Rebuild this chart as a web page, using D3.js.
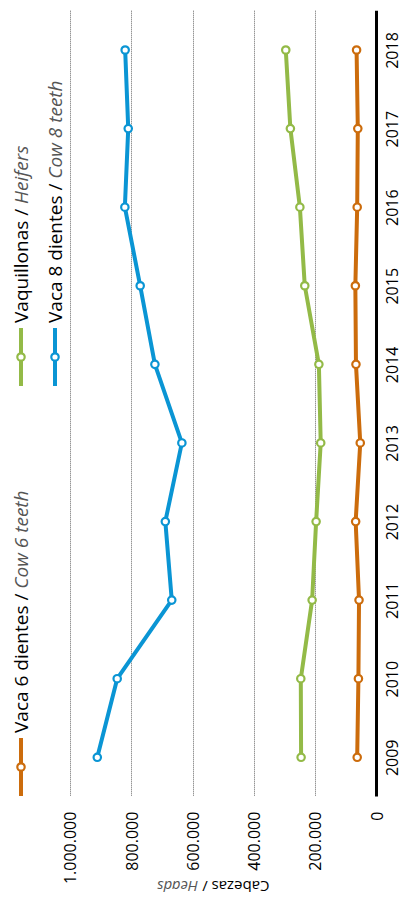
<!DOCTYPE html>
<html>
<head>
<meta charset="utf-8">
<script src="https://cdn.jsdelivr.net/npm/d3@7"></script>
<style>
  html, body { margin: 0; padding: 0; background: #fff; }
  svg { display: block; font-family: "Open Sans", "Noto Sans", sans-serif; }
</style>
</head>
<body>
<svg id="chart" width="402" height="897"></svg>
<script>
// Cattle stock by category, 2009-2018 (heads)
const years = ["2009", "2010", "2011", "2012", "2013", "2014", "2015", "2016", "2017", "2018"];
const cow6 = [63000, 59000, 57000, 68000, 53000, 67000, 69000, 63000, 61000, 65000];
const heifers = [246000, 247000, 210000, 197000, 182000, 188000, 234000, 250000, 281000, 296000];
const cow8 = [911000, 846000, 668000, 689000, 635000, 723000, 771000, 821000, 810000, 820000];
const valueTicks = [0, 200000, 400000, 600000, 800000, 1000000];

const seriesNames = [
  { es: "Vaca 6 dientes", en: "Cow 6 teeth", values: cow6, color: "#cc6c0c" },
  { es: "Vaquillonas", en: "Heifers", values: heifers, color: "#93ba47" },
  { es: "Vaca 8 dientes", en: "Cow 8 teeth", values: cow8, color: "#0a95d4" }
];

const svg = d3.select("#chart");
const locale = d3.formatLocale({ decimal: ",", thousands: ".", grouping: [3], currency: ["", ""] });
const fmt = locale.format(",d");

// The chart is laid out sideways: values grow leftward, years run downward.
const x = d3.scaleLinear().domain([0, 1000000]).range([376.5, 70]);
const y = d3.scalePoint().domain(years).range([757.3, 50]);
const plotTop = 10.7, plotBottom = 796.6;

// dotted gridlines
svg.append("g").selectAll("line")
  .data(valueTicks.filter(v => v > 0))
  .join("line")
  .attr("x1", d => Math.round(x(d)) + 0.5).attr("x2", d => Math.round(x(d)) + 0.5)
  .attr("y1", plotTop).attr("y2", plotBottom)
  .attr("stroke", "#666").attr("stroke-width", 1)
  .attr("stroke-dasharray", "1,1");

// value axis (tick labels only)
const vAxis = svg.append("g")
  .attr("transform", `translate(0,${plotBottom})`)
  .call(d3.axisBottom(x).tickValues(valueTicks).tickFormat(fmt).tickSize(0));
vAxis.select(".domain").remove();
vAxis.selectAll("text")
  .attr("font-size", 16).attr("fill", "#000")
  .attr("font-family", "Open Sans")
  .attr("transform", "translate(0,15) rotate(-90)")
  .attr("x", 0).attr("y", 0).attr("dy", "0.36em")
  .attr("text-anchor", "end");

// year axis
const yAxis = svg.append("g")
  .attr("transform", `translate(${x(0)},0)`)
  .call(d3.axisRight(y).tickSize(0).tickPadding(0));
yAxis.select(".domain").remove();
yAxis.selectAll("text")
  .attr("font-size", 16).attr("fill", "#000")
  .attr("font-family", "Open Sans")
  .attr("x", 0).attr("y", 0).attr("dy", "0")
  .attr("transform", "translate(21,0) rotate(-90)")
  .attr("text-anchor", "middle");
svg.append("line")
  .attr("x1", x(0)).attr("x2", x(0))
  .attr("y1", plotTop).attr("y2", plotBottom)
  .attr("stroke", "#000").attr("stroke-width", 3);

// series lines and markers
const line = d3.line()
  .x(d => x(d.v))
  .y(d => y(d.year));

seriesNames.forEach(s => {
  const pts = years.map((year, i) => ({ year, v: s.values[i] }));
  const g = svg.append("g");
  g.append("path")
    .datum(pts)
    .attr("d", line)
    .attr("fill", "none")
    .attr("stroke", s.color)
    .attr("stroke-width", 4)
    .attr("stroke-linejoin", "round");
  g.selectAll("circle")
    .data(pts)
    .join("circle")
    .attr("cx", d => x(d.v)).attr("cy", d => y(d.year))
    .attr("r", 3.7)
    .attr("fill", "#fff")
    .attr("stroke", s.color)
    .attr("stroke-width", 2.2);
});

// legend
const legendPos = [
  { cx: 21, cy: 767 },
  { cx: 21, cy: 357 },
  { cx: 55, cy: 357 }
];
seriesNames.forEach((s, i) => {
  const p = legendPos[i];
  const g = svg.append("g").attr("transform", `translate(${p.cx},${p.cy})`);
  g.append("line")
    .attr("x1", 0).attr("x2", 0).attr("y1", -29).attr("y2", 29)
    .attr("stroke", s.color).attr("stroke-width", 4);
  g.append("circle")
    .attr("r", 3.7).attr("fill", "#fff")
    .attr("stroke", s.color).attr("stroke-width", 2.2);
  const t = g.append("text")
    .attr("transform", "translate(0,-34) rotate(-90)")
    .attr("dy", "0.38em")
    .attr("font-size", 19)
    .attr("fill", "#000");
  t.append("tspan").text(s.es + " / ");
  t.append("tspan").attr("font-style", "italic").attr("fill", "#555").text(s.en);
});

// value axis title, upside down
const title = svg.append("text")
  .attr("transform", `translate(${(x(0) + x(1000000)) / 2 - 10},881) rotate(180)`)
  .attr("text-anchor", "middle")
  .attr("font-size", 15)
  .attr("fill", "#000");
title.append("tspan").text("Cabezas / ");
title.append("tspan").attr("font-style", "italic").attr("fill", "#555").text("Heads");
</script>
</body>
</html>
